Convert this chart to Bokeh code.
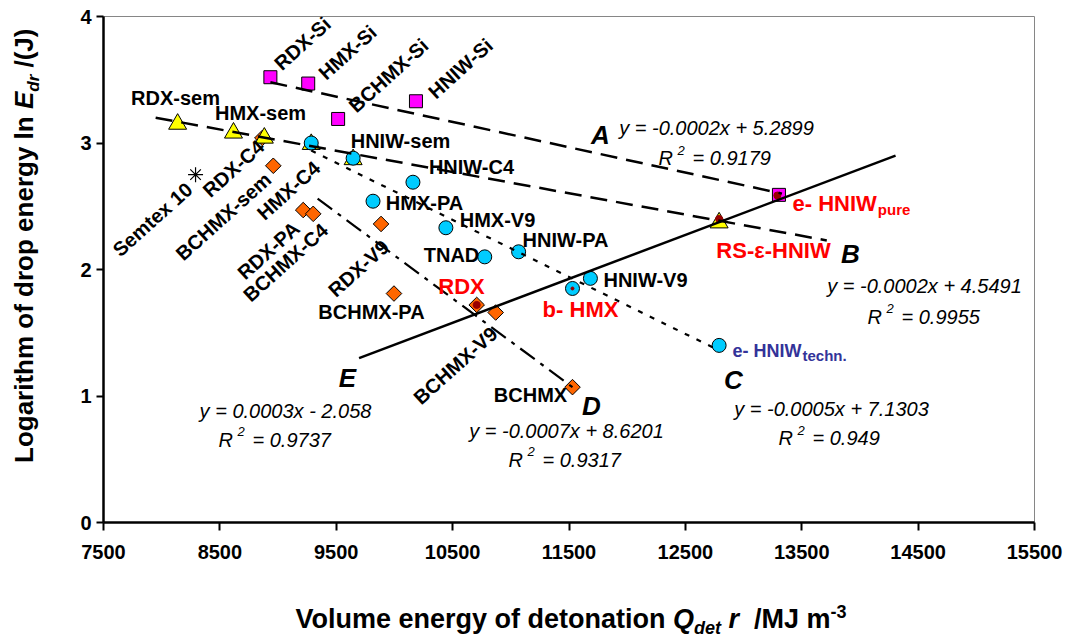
import numpy as np
from bokeh.plotting import figure
from bokeh.models import Range1d, FixedTicker, Div
from bokeh.layouts import row, column
from bokeh.core.properties import value
from bokeh.embed import file_html
from bokeh.resources import INLINE

# ---------------- data ----------------
x_ticks = [7500, 8500, 9500, 10500, 11500, 12500, 13500, 14500, 15500]
y_ticks = [0, 1, 2, 3, 4]

# series A (silicone-bonded, magenta squares)
si_names = ["RDX-Si", "HMX-Si", "BCHMX-Si", "HNIW-Si", "e-HNIW pure"]
si_x = [8934, 9259, 9516, 10185, 13304]
si_y = [3.52, 3.47, 3.19, 3.33, 2.59]

# series B (Semtex-like, yellow triangles)
sem_names = ["RDX-sem", "HMX-sem", "RDX-C4", "HMX-C4", "HNIW-sem", "RS-e-HNIW"]
sem_x = [8137, 8617, 8882, 9285, 9645, 12790]
sem_y = [3.15, 3.08, 3.04, 2.99, 2.87, 2.37]

# series C (cyan circles)
cir_names = ["HMX-C4", "HNIW-sem", "HNIW-C4", "HMX-PA", "HMX-V9", "TNAD",
             "HNIW-PA", "b-HMX", "HNIW-V9", "e-HNIW techn."]
cir_x = [9285, 9645, 10159, 9816, 10442, 10776, 11067, 11530, 11684, 12790]
cir_y = [3.00, 2.88, 2.69, 2.54, 2.33, 2.10, 2.14, 1.85, 1.93, 1.40]

# series D (orange diamonds)
dia_names = ["RDX-C4", "BCHMX-sem", "RDX-PA", "BCHMX-C4", "RDX-V9",
             "BCHMX-PA", "RDX", "BCHMX-V9", "BCHMX"]
dia_x = [8865, 8959, 9216, 9302, 9885, 9996, 10707, 10870, 11530]
dia_y = [3.04, 2.82, 2.47, 2.44, 2.36, 1.81, 1.72, 1.66, 1.07]

# Semtex 10 (asterisk)
semtex_x = [8291]
semtex_y = [2.75]

# pure substances (dark red dots)
pure_x = [10707, 12790, 13290]
pure_y = [1.72, 2.40, 2.585]
bhmx_x = [11530]
bhmx_y = [1.85]

# trend lines (end points)
lineA_x = [8934, 13330]; lineA_y = [3.48, 2.60]
lineB_x = [7948, 13715]; lineB_y = [3.20, 2.23]
lineC_x = [9285, 12790]; lineC_y = [2.94, 1.36]
lineD_x = [9340, 11530]; lineD_y = [2.56, 1.07]
lineE_x = [9696, 14306]; lineE_y = [1.30, 2.90]

eq_texts = ["y = -0.0002x + 5.2899", "y = -0.0002x + 4.5491", "y = -0.0005x + 7.1303",
            "y = -0.0007x + 8.6201", "y = 0.0003x - 2.058"]
r2_texts = ["= 0.9179", "= 0.9955", "= 0.949", "= 0.9317", "= 0.9737"]
line_letters = ["A", "B", "C", "D", "E"]

# ---------------- layout helpers ----------------
FONT = "Liberation Sans"
YW = 60                      # width of the y-title strip
XH = 50                      # height of the x-title strip
FL, FT, FW, FH = 103, 16, 931, 506   # frame position on the page
X0, X1, Y0, Y1 = 7500, 15500, 0, 4


def dxs(px):
    return X0 + (px - FL) * (X1 - X0) / FW


def dys(py):
    return Y0 + (FT + FH - py) * (Y1 - Y0) / FH


AW = {' ': 278, '(': 333, ')': 333, '/': 278, '-': 333, '.': 278, '=': 584, '+': 584,
      'A': 722, 'B': 722, 'C': 722, 'D': 722, 'E': 667, 'H': 722, 'I': 278, 'J': 556,
      'L': 611, 'M': 833, 'N': 722, 'P': 667, 'Q': 778, 'R': 722, 'S': 667, 'T': 611,
      'V': 667, 'W': 944, 'X': 667, 'a': 556, 'b': 611, 'c': 556, 'd': 611, 'e': 556,
      'f': 333, 'g': 611, 'h': 611, 'i': 278, 'l': 278, 'm': 889, 'n': 611, 'o': 611,
      'p': 611, 'r': 389, 's': 556, 't': 333, 'u': 611, 'v': 556, 'y': 556, 'x': 556}


def tw(s, fs):
    return sum(AW.get(c, 556) for c in s) * fs / 1000.0


PW, PH = 1075 - YW, 642 - XH
p = figure(width=PW, height=PH, x_range=Range1d(X0, X1), y_range=Range1d(Y0, Y1),
           output_backend="svg", toolbar_location=None,
           min_border_left=FL - YW, min_border_right=1075 - FL - FW,
           min_border_top=FT, min_border_bottom=PH - FT - FH, margin=0)
p.xgrid.visible = False
p.ygrid.visible = False
p.outline_line_color = "#868686"
p.outline_line_width = 1
p.background_fill_color = "white"
p.border_fill_color = "white"

for ax in (p.xaxis[0], p.yaxis[0]):
    ax.axis_line_width = 2.5
    ax.axis_line_color = "black"
    ax.major_tick_line_width = 2
    ax.major_tick_line_color = "black"
    ax.major_tick_in = 0
    ax.minor_tick_line_color = None
    ax.major_label_text_font = FONT
    ax.major_label_text_font_style = "bold"
    ax.major_label_text_font_size = "20px"
    ax.major_label_text_color = "black"
p.xaxis.ticker = FixedTicker(ticks=x_ticks)
p.yaxis.ticker = FixedTicker(ticks=y_ticks)
p.xaxis.major_tick_out = 8
p.yaxis.major_tick_out = 7
p.xaxis.major_label_standoff = 14
p.yaxis.major_label_standoff = 5

# ---------------- markers ----------------
p.scatter(si_x, si_y, marker="square", size=13, fill_color="#FF00FF", line_color="black", line_width=1)
p.scatter(dia_x, dia_y, marker="square", angle=np.pi / 4, size=11, fill_color="#FF6600",
          line_color="black", line_width=1)
p.scatter(sem_x, sem_y, marker="triangle", size=18, fill_color="#FFFF00", line_color="black", line_width=1)
p.scatter(cir_x, cir_y, marker="circle", size=14, fill_color="#00CCFF", line_color="black", line_width=1)
p.scatter(semtex_x, semtex_y, marker="asterisk", size=15, line_color="black", line_width=1.2)
p.scatter(pure_x, pure_y, marker="circle", size=7, fill_color="#990000", line_color="#990000")
p.scatter(bhmx_x, bhmx_y, marker="circle", size=3, fill_color="#990000", line_color="#990000")

# ---------------- trend lines ----------------
p.line(lineA_x, lineA_y, line_color="black", line_width=2.5, line_dash="17 9")
p.line(lineB_x, lineB_y, line_color="black", line_width=2.5, line_dash="17 9")
p.line(lineC_x, lineC_y, line_color="black", line_width=2.2, line_dash="5 8")
p.line(lineD_x, lineD_y, line_color="black", line_width=2.2, line_dash="18 7 4 7")
p.line(lineE_x, lineE_y, line_color="black", line_width=2.5)


# ---------------- texts ----------------
def txt(sx, sy, s, size, color="black", style="bold", align="center", baseline="middle", angle=0.0):
    p.text(x=[dxs(sx)], y=[dys(sy)], text=[s], angle=angle,
           text_font=value(FONT), text_font_size=f"{size}px", text_font_style=style,
           text_color=color, text_align=align, text_baseline=baseline)


LBL = 20
# horizontal black labels
for name, sx, sy in [("RDX-sem", 175, 97), ("HMX-sem", 260, 112), ("HNIW-sem", 400, 140),
                     ("HNIW-C4", 471, 166), ("HMX-PA", 424, 202), ("HMX-V9", 497, 219),
                     ("TNAD", 451, 254), ("HNIW-PA", 565, 239), ("HNIW-V9", 645, 279),
                     ("BCHMX-PA", 371, 311), ("BCHMX", 530, 394)]:
    txt(sx, sy, name, LBL)

# rotated black labels
ROT = np.deg2rad(42)
for name, sx, sy in [("RDX-Si", 302, 43), ("HMX-Si", 347, 52), ("BCHMX-Si", 388, 75),
                     ("HNIW-Si", 460, 68), ("Semtex 10", 152, 219), ("RDX-C4", 233, 168),
                     ("BCHMX-sem", 223, 216), ("HMX-C4", 288, 190), ("RDX-PA", 268, 250),
                     ("BCHMX-C4", 285, 262), ("RDX-V9", 358, 268), ("BCHMX-V9", 455, 365)]:
    txt(sx, sy, name, LBL, angle=ROT)

# red labels
for name, sx, sy in [("RDX", 461, 286), ("b- HMX", 580, 309), ("RS-ε-HNIW", 773, 250)]:
    txt(sx, sy, name, 22, color="#FF0000")

# e- HNIW pure
txt(792, 203, "e- HNIW", 22, color="#FF0000", align="left", baseline="alphabetic")
txt(792 + tw("e- HNIW", 22) + 1, 209, "pure", 15, color="#FF0000", align="left", baseline="alphabetic")
# e- HNIW techn.
txt(732, 350, "e- HNIW", 18, color="#333399", align="left", baseline="alphabetic")
txt(732 + tw("e- HNIW", 18) + 1, 355, "techn.", 15, color="#333399", align="left", baseline="alphabetic")

# line letters
for letter, sx, sy in zip(line_letters, [600, 850, 733, 591, 347], [134, 253, 379, 405, 377]):
    txt(sx, sy, letter, 26, style="bold italic")

# equations
EQ = 20
eq_pos = [(716, 127), (924, 285), (831, 408), (566, 430), (285, 410)]
r2_pos = [(658, 157.5), (867, 316), (778, 437.5), (508, 459), (218, 439)]
for s, (sx, sy) in zip(eq_texts, eq_pos):
    txt(sx, sy, s, EQ, style="italic")
for s, (sx, sy) in zip(r2_texts, r2_pos):
    txt(sx, sy, "R", EQ, style="italic", align="left")
    txt(sx + 19, sy - 8, "2", 13, style="italic", align="left")
    txt(sx + 34, sy, s, EQ, style="italic", align="left")

# ---------------- axis titles (HTML, for sub/superscripts) ----------------
FCSS = "font-family:'Liberation Sans';font-weight:bold;color:black;white-space:nowrap;line-height:1;"
YT = 26
y_html = (
    f'<div style="position:relative;width:{YW}px;height:{PH}px;">'
    f'<div style="position:absolute;left:11px;top:463px;transform:rotate(-90deg);'
    f'transform-origin:0 0;{FCSS}font-size:{YT}px;">'
    'Logarithm of drop energy ln <i>E</i>'
    '<span style="font-size:17px;font-style:italic;vertical-align:-6px;line-height:0">dr</span>'
    ' /(J)</div></div>'
)
ydiv = Div(text=y_html, width=YW, height=PH, margin=0)

XT = 27
x_pieces = [("Volume energy of detonation ", XT), ("Q", XT), ("det", 18), (" r", XT),
            ("  /MJ m", XT), ("-3", 18)]
x_total = sum(tw(s, fs) for s, fs in x_pieces)
x_left = 572 - x_total / 2
x_html = (
    f'<div style="position:relative;width:1075px;height:{XH}px;">'
    f'<div style="position:absolute;left:{x_left:.1f}px;top:14px;{FCSS}font-size:{XT}px;">'
    'Volume energy of detonation <i>Q</i>'
    '<span style="font-size:18px;font-style:italic;vertical-align:-6px;line-height:0">det</span>'
    '<i> r</i>&nbsp;&nbsp;/MJ m'
    '<span style="font-size:18px;vertical-align:10px;line-height:0">-3</span>'
    '</div></div>'
)
xdiv = Div(text=x_html, width=1075, height=XH, margin=0)

layout = column(row(ydiv, p, spacing=0, margin=0), xdiv, spacing=0, margin=0)

open("out.html", "w").write(file_html(layout, INLINE))
